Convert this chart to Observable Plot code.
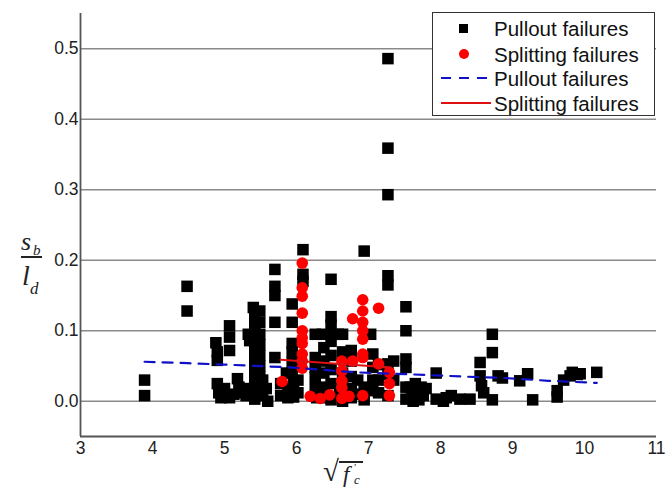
<!DOCTYPE html>
<html>
<head>
<meta charset="utf-8">
<script src="https://cdn.jsdelivr.net/npm/d3@7"></script>
<script src="https://cdn.jsdelivr.net/npm/@observablehq/plot@0.6"></script>
<style>
  body { margin: 0; background: #fff; }
  #wrap { position: relative; width: 666px; height: 489px; overflow: hidden; font-family: "Liberation Sans", Arial, sans-serif; }
  #wrap svg { position: absolute; left: 0; top: 0; }
  .lab { position: absolute; font-family: "Liberation Serif", "Times New Roman", serif; font-style: italic; color: #222; line-height: 1; }
  #legend { position: absolute; left: 432px; top: 12px; width: 221px; height: 102px; border: 1px solid #333; background: #fff; }
  #legend .row { position: absolute; left: 0; height: 24px; width: 221px; }
  #legend .txt { position: absolute; left: 61px; top: 0px; font-size: 20.5px; color: #111; white-space: nowrap; line-height: 23px; }
  #legend svg { position: absolute; left: 0; top: 0; }
</style>
</head>
<body>
<div id="wrap"></div>
<script>
// ---- data ----
const xTicks = [3, 4, 5, 6, 7, 8, 9, 10, 11];
const yTicks = [0, 0.1, 0.2, 0.3, 0.4, 0.5];
const legendLabels = ["Pullout failures", "Splitting failures", "Pullout failures", "Splitting failures"];

const pulloutX = [
  3.89,3.89,
  4.48,4.48,
  4.88,4.90,4.90,4.90,4.92,4.95,
  5.00,5.02,
  5.07,5.07,5.07,5.07,
  5.13,5.18,5.20,5.25,5.30,
  5.33,5.35,5.35,
  5.40,5.42,5.42,5.42,5.42,5.42,5.42,5.42,5.42,5.42,5.42,5.42,
  5.49,5.49,5.49,5.49,5.49,5.49,5.49,5.49,5.49,
  5.53,5.53,5.58,5.60,
  5.70,5.70,5.70,5.70,5.70,
  5.78,5.78,
  5.86,5.88,5.88,
  5.94,5.94,5.94,5.94,5.94,5.94,5.96,5.96,
  6.02,6.02,6.02,
  6.09,6.09,6.09,
  6.26,6.26,6.26,6.26,6.26,6.28,
  6.36,6.38,6.38,6.38,6.38,6.40,
  6.48,6.48,6.48,6.48,6.48,6.48,6.48,6.48,6.48,
  6.58,6.60,
  6.64,6.64,6.64,6.64,6.64,
  6.76,6.76,6.76,6.76,6.76,
  6.85,6.88,
  6.94,6.94,6.94,
  7.03,7.06,7.06,7.06,7.06,
  7.14,7.14,7.14,
  7.27,7.27,7.27,7.27,7.27,7.27,7.27,7.27,
  7.35,7.35,
  7.52,7.52,7.52,7.52,7.52,7.52,
  7.58,7.60,7.62,7.65,7.68,7.70,7.73,7.76,7.80,
  7.94,7.94,8.04,8.08,8.15,8.27,8.41,
  8.55,8.55,8.57,8.60,8.72,8.72,8.72,
  8.80,8.86,
  9.10,9.21,9.28,9.62,9.62,9.71,9.80,9.83,9.90,9.94,10.17
];
const pulloutY = [
  0.030,0.008,
  0.163,0.128,
  0.083,0.070,0.058,0.025,0.012,0.005,
  0.018,0.008,
  0.107,0.091,0.072,0.005,
  0.010,0.032,0.020,0.012,0.008,
  0.095,0.086,0.018,
  0.133,0.122,0.110,0.098,0.085,0.072,0.060,0.048,0.036,0.024,0.012,0.003,
  0.128,0.112,0.095,0.080,0.065,0.050,0.035,0.020,0.008,
  0.030,0.010,0.018,0.000,
  0.187,0.163,0.150,0.112,0.062,
  0.025,0.008,
  0.040,0.020,0.005,
  0.138,0.112,0.082,0.070,0.055,0.040,0.025,0.006,
  0.060,0.030,0.012,
  0.215,0.180,0.170,
  0.095,0.062,0.048,0.034,0.018,0.005,
  0.095,0.076,0.057,0.040,0.020,0.005,
  0.173,0.120,0.108,0.095,0.085,0.065,0.045,0.025,0.002,
  0.095,0.010,
  0.095,0.070,0.040,0.020,0.000,
  0.072,0.057,0.035,0.018,0.005,
  0.030,0.010,
  0.213,0.020,0.002,
  0.095,0.067,0.048,0.030,0.015,
  0.052,0.030,0.012,
  0.486,0.359,0.293,0.178,0.165,0.053,0.038,0.008,
  0.057,0.030,
  0.134,0.100,0.060,0.048,0.020,0.003,
  0.020,0.008,0.000,0.025,0.012,0.002,0.020,0.008,0.018,
  0.040,0.003,0.000,0.005,0.008,0.003,0.003,
  0.055,0.036,0.022,0.012,0.095,0.069,0.002,
  0.036,0.033,
  0.029,0.039,0.002,0.006,0.015,0.030,0.036,0.041,0.038,0.039,0.041
];

const splittingX = [
  5.80,
  6.08,6.08,6.08,6.08,6.08,6.08,6.08,6.08,6.08,6.08,
  6.19,6.33,6.46,
  6.63,6.63,6.63,6.63,6.63,
  6.73,6.78,6.78,
  6.92,6.92,6.92,6.92,6.92,6.92,6.92,6.92,
  7.14,7.14,
  7.29,7.29,7.29
];
const splittingY = [
  0.028,
  0.196,0.161,0.149,0.125,0.100,0.090,0.082,0.067,0.057,0.047,
  0.007,0.004,0.009,
  0.057,0.043,0.029,0.019,0.004,
  0.007,0.117,0.057,
  0.144,0.128,0.112,0.100,0.088,0.067,0.062,0.008,
  0.132,0.053,
  0.041,0.025,0.008
];

const pulloutFitX = [3.89, 4.49, 5.00, 5.92, 6.82, 7.63, 8.32, 8.88, 9.50, 10.17];
const pulloutFitY = [0.056, 0.054, 0.052, 0.048, 0.041, 0.038, 0.035, 0.033, 0.029, 0.026];
const splittingFitX = [5.78, 7.31];
const splittingFitY = [0.059, 0.048];

// ---- build tables ----
const pullout = pulloutX.map((x, i) => ({x, y: pulloutY[i]}));
const splitting = splittingX.map((x, i) => ({x, y: splittingY[i]}));
const pulloutFit = pulloutFitX.map((x, i) => ({x, y: pulloutFitY[i]}));
const splittingFit = splittingFitX.map((x, i) => ({x, y: splittingFitY[i]}));

const chart = Plot.plot({
  width: 666,
  height: 489,
  marginLeft: 80,
  marginRight: 10,
  marginTop: 13,
  marginBottom: 53,
  style: {fontFamily: "'Liberation Sans', Arial, sans-serif", fontSize: "17.5px", color: "#222", background: "#fff"},
  x: {domain: [3, 11], ticks: xTicks, tickSize: 0, tickPadding: 5, label: null, tickFormat: d3.format("d")},
  y: {domain: [-0.05, 0.55], ticks: yTicks, tickSize: 0, tickPadding: 2, label: null, tickFormat: d3.format(".1f")},
  marks: [
    Plot.gridY(yTicks, {stroke: "#8a8a8a", strokeOpacity: 1, strokeWidth: 1.3}),
    Plot.ruleX([3], {stroke: "#555", strokeWidth: 1.8}),
    Plot.ruleY([-0.05], {stroke: "#555", strokeWidth: 1.8}),
    Plot.dot(pullout, {x: "x", y: "y", symbol: "square", r: 6.5, fill: "#000", stroke: "none"}),
    Plot.dot(splitting, {x: "x", y: "y", symbol: "circle", r: 5.8, fill: "#f00", stroke: "none"}),
    Plot.line(pulloutFit, {x: "x", y: "y", stroke: "#1010c8", strokeWidth: 2.2, strokeDasharray: "10,8"}),
    Plot.line(splittingFit, {x: "x", y: "y", stroke: "#e01010", strokeWidth: 2})
  ]
});
const wrap = document.getElementById("wrap");
wrap.appendChild(chart);

// ---- legend ----
const legend = document.createElement("div");
legend.id = "legend";
const rowsTop = [4, 30, 54, 79];
const ns = "http://www.w3.org/2000/svg";
const lsvg = document.createElementNS(ns, "svg");
lsvg.setAttribute("width", "221"); lsvg.setAttribute("height", "102");
function add(tag, attrs) { const e = document.createElementNS(ns, tag); for (const k in attrs) e.setAttribute(k, attrs[k]); lsvg.appendChild(e); }
add("rect", {x: 26, y: rowsTop[0] + 7, width: 9, height: 9, fill: "#000"});
add("circle", {cx: 31, cy: rowsTop[1] + 11, r: 5, fill: "#f00"});
add("line", {x1: 8, x2: 60, y1: rowsTop[2] + 11, y2: rowsTop[2] + 11, stroke: "#1010c8", "stroke-width": 2, "stroke-dasharray": "10,8"});
add("line", {x1: 8, x2: 58, y1: rowsTop[3] + 11, y2: rowsTop[3] + 11, stroke: "#e01010", "stroke-width": 1.8});
legend.appendChild(lsvg);
legendLabels.forEach((t, i) => {
  const r = document.createElement("div");
  r.className = "row"; r.style.top = rowsTop[i] + "px";
  const s = document.createElement("div"); s.className = "txt"; s.textContent = t;
  r.appendChild(s); legend.appendChild(r);
});
wrap.appendChild(legend);

// ---- axis labels ----
function lab(text, left, top, size, extra) {
  const d = document.createElement("div");
  d.className = "lab"; d.textContent = text;
  d.style.left = left + "px"; d.style.top = top + "px"; d.style.fontSize = size + "px";
  if (extra) Object.assign(d.style, extra);
  wrap.appendChild(d); return d;
}
// y label: s_b / l_d
lab("s", 21, 229, 26);
lab("b", 33, 243, 15);
const bar = document.createElement("div");
Object.assign(bar.style, {position: "absolute", left: "21px", top: "256px", width: "21px", height: "1.5px", background: "#222"});
wrap.appendChild(bar);
lab("l", 22, 262, 28);
lab("d", 30, 280, 17);
// x label: sqrt(f'_c)
lab("\u221A", 323, 457, 29, {fontStyle: "normal"});
const ob = document.createElement("div");
Object.assign(ob.style, {position: "absolute", left: "339px", top: "461px", width: "24px", height: "1.5px", background: "#222"});
wrap.appendChild(ob);
lab("f", 343, 463, 23);
lab("\u2032", 354, 462, 11, {fontStyle: "normal"});
lab("c", 354, 473, 13);
</script>
</body>
</html>
